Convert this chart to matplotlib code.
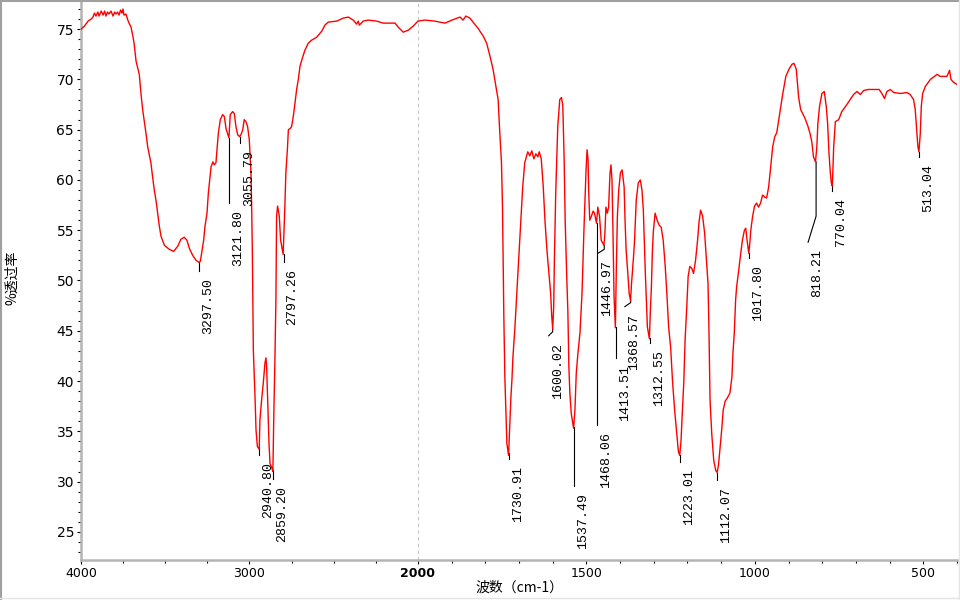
import numpy as np
import matplotlib
matplotlib.use("Agg")
import matplotlib.pyplot as plt
from matplotlib.ticker import FixedLocator, MultipleLocator
from matplotlib.lines import Line2D

# IR spectrum: wavenumber (cm-1) and % transmittance
wavenumber = [
    4000, 3980, 3958, 3940, 3929, 3920, 3911, 3900, 3893, 3880, 3869, 3860, 3852, 3843,
    3834, 3822, 3810, 3800, 3792, 3783, 3774, 3765, 3757, 3751, 3745, 3733, 3722, 3715,
    3703, 3691, 3685, 3673, 3654, 3644, 3634, 3614, 3604, 3585, 3575, 3565, 3555, 3545,
    3535, 3525, 3505, 3476, 3450, 3426, 3407, 3387, 3371, 3357, 3337, 3317, 3300, 3292,
    3284, 3272, 3264, 3252, 3244, 3236, 3228, 3217, 3209, 3199, 3193, 3185, 3173, 3159,
    3149, 3139, 3130, 3122, 3114, 3100, 3090, 3080, 3070, 3058, 3048, 3040, 3031, 3021,
    3011, 3001, 2991, 2987, 2983, 2977, 2967, 2961, 2953, 2942, 2938, 2928, 2918, 2908,
    2902, 2898, 2892, 2884, 2878, 2868, 2861, 2855, 2849, 2843, 2839, 2833, 2823, 2815,
    2800, 2790, 2784, 2775, 2769, 2760, 2750, 2740, 2730, 2720, 2710, 2700, 2690, 2671,
    2651, 2631, 2601, 2571, 2552, 2532, 2482, 2443, 2413, 2384, 2364, 2354, 2348, 2325,
    2295, 2245, 2206, 2136, 2117, 2087, 2057, 2028, 2000,
    1979, 1950, 1920, 1899, 1875, 1866, 1858, 1846, 1834, 1822, 1816, 1806, 1796, 1786,
    1777, 1772, 1767, 1762, 1757, 1752, 1749, 1747, 1745, 1742, 1739, 1736, 1731, 1728,
    1724, 1721, 1718, 1712, 1706, 1700, 1694, 1689, 1683, 1674, 1668, 1662, 1656, 1650,
    1644, 1640, 1634, 1628, 1623, 1617, 1611, 1606, 1603, 1600, 1597, 1595, 1591, 1585,
    1579, 1574, 1570, 1566, 1563, 1558, 1555, 1552, 1549, 1545, 1538, 1534, 1530, 1525,
    1519, 1513, 1507, 1501, 1498, 1495, 1493, 1490, 1485, 1480, 1476, 1470, 1466, 1461,
    1456, 1448, 1445, 1442, 1438, 1434, 1430, 1427, 1424, 1421, 1418, 1414, 1411, 1408,
    1404, 1399, 1394, 1388, 1385, 1382, 1377, 1373, 1369, 1366, 1360, 1357, 1352, 1346,
    1340, 1335, 1331, 1328, 1325, 1319, 1313, 1310, 1307, 1304, 1301, 1296, 1290, 1284,
    1278, 1272, 1266, 1260, 1256, 1250, 1244, 1238, 1232, 1227, 1223, 1219, 1216, 1211,
    1207, 1202, 1198, 1193, 1187, 1182, 1176, 1170, 1166, 1161, 1155, 1149, 1143, 1139,
    1136, 1133, 1128, 1122, 1116, 1112, 1108, 1103, 1098, 1094, 1088, 1082, 1074, 1068,
    1065, 1061, 1057, 1054, 1049, 1043, 1037, 1031, 1027, 1023, 1018, 1015, 1012, 1007,
    1001, 995, 989, 983, 977, 971, 965, 959, 953, 947, 941, 935, 929, 923, 917, 908, 899,
    890, 884, 877, 870, 864, 852, 843, 836, 831, 826, 820, 816, 813, 808, 801, 794, 788,
    784, 780, 776, 773, 770, 766, 761, 751, 742, 727, 707, 697, 687, 677, 663, 648, 638,
    631, 623, 615, 608, 598, 588, 568, 549, 539, 529, 524, 519, 516, 513, 509, 506, 502,
    494, 479, 459, 450, 430, 422, 418, 410, 400,
]
transmittance = [
    75.0, 75.3, 75.8, 76.0, 76.2, 76.6, 76.3, 76.7, 76.3, 76.8, 76.4, 76.8, 76.3, 76.7,
    76.5, 76.8, 76.3, 76.7, 76.5, 76.7, 76.4, 76.9, 76.6, 77.0, 76.4, 76.5, 75.9, 75.6,
    75.2, 74.2, 73.6, 71.8, 70.5, 68.6, 67.0, 64.6, 63.3, 61.7, 60.3, 59.0, 58.0, 56.7,
    55.4, 54.4, 53.5, 53.1, 52.9, 53.4, 54.1, 54.3, 54.0, 53.2, 52.5, 52.0, 51.8, 51.9,
    52.7, 54.0, 55.4, 56.7, 58.7, 60.0, 61.3, 61.8, 61.5, 61.7, 63.0, 64.6, 66.0, 66.5,
    66.3, 65.1, 64.6, 64.2, 66.5, 66.8, 66.6, 65.3, 64.5, 64.3, 64.6, 65.0, 66.0, 65.8,
    65.3, 64.0, 60.7, 57.3, 53.0, 43.1, 38.4, 35.1, 33.5, 33.2, 36.1, 38.1, 39.8, 41.8,
    42.3, 41.4, 38.1, 33.8, 31.8, 31.4, 31.0, 37.1, 42.0, 48.1, 56.4, 57.4, 56.4, 54.0,
    52.6, 57.3, 60.7, 63.0, 65.0, 65.1, 65.3, 66.3, 67.6, 69.0, 70.0, 71.3, 71.9, 72.9,
    73.6, 73.9, 74.2, 74.8, 75.4, 75.7, 75.8, 76.1, 76.2, 75.9, 75.5, 75.8, 75.4, 75.8,
    75.9, 75.8, 75.6, 75.6, 75.2, 74.7, 74.9, 75.3, 75.8,
    75.9, 75.8, 75.6, 75.9, 76.2, 75.9, 76.3, 76.1, 75.6, 75.1, 74.8, 74.3, 73.6, 72.3,
    71.0, 70.0, 69.0, 68.0, 64.7, 61.7, 57.3, 52.0, 46.4, 40.4, 37.1, 33.8, 32.6, 35.1,
    38.4, 40.1, 42.4, 45.4, 49.1, 52.7, 56.3, 59.3, 61.7, 62.8, 62.4, 62.9, 62.1, 62.6,
    62.3, 62.8, 62.1, 59.3, 56.0, 53.0, 50.7, 48.7, 46.5, 45.2, 47.4, 52.0, 58.7, 65.3,
    68.0, 68.2, 67.4, 62.0, 56.0, 50.0, 47.0, 41.4, 38.8, 36.8, 35.3, 37.1, 40.8, 42.8,
    44.8, 48.7, 55.3, 61.0, 63.0, 62.0, 58.7, 56.0, 56.4, 56.9, 56.7, 55.7, 57.3, 56.4,
    54.0, 53.5, 54.7, 57.3, 56.7, 57.3, 60.6, 61.5, 60.0, 54.7, 48.5, 45.3, 51.4, 56.4,
    59.0, 60.7, 61.0, 59.3, 55.7, 53.0, 50.7, 48.7, 48.0, 49.7, 52.4, 54.0, 58.0, 59.7,
    60.0, 59.0, 57.0, 53.7, 50.7, 45.4, 44.2, 47.1, 49.4, 53.0, 55.0, 56.7, 56.0, 55.5,
    55.3, 54.0, 51.4, 48.0, 45.4, 43.4, 39.8, 37.1, 34.8, 33.0, 32.6, 34.1, 36.4, 39.8,
    44.1, 47.4, 50.4, 51.4, 51.2, 50.7, 52.0, 54.0, 55.7, 57.0, 56.4, 54.7, 51.7, 49.7,
    44.7, 38.1, 34.8, 32.1, 31.1, 30.9, 31.6, 33.5, 35.3, 37.1, 38.0, 38.3, 38.8, 40.4,
    42.8, 44.8, 48.1, 49.4, 50.7, 52.4, 54.0, 55.0, 55.2, 54.0, 52.7, 53.7, 55.0, 56.3,
    57.4, 57.7, 57.3, 57.7, 58.5, 58.3, 58.2, 59.3, 61.3, 63.3, 64.3, 64.7, 66.0, 67.3,
    68.6, 70.3, 71.0, 71.5, 71.6, 71.0, 68.2, 67.0, 66.2, 65.4, 64.6, 63.8, 62.3, 61.8,
    63.3, 65.6, 67.3, 68.6, 68.8, 67.3, 65.6, 62.7, 60.7, 59.7, 59.4, 63.3, 65.8, 66.0,
    66.8, 67.5, 68.5, 68.8, 68.5, 68.9, 69.0, 69.0, 69.0, 69.0, 68.6, 68.1, 68.8, 69.0,
    68.7, 68.6, 68.7, 68.5, 68.0, 67.0, 64.6, 63.3, 62.8, 64.6, 67.3, 68.6, 69.3, 70.0,
    70.5, 70.3, 70.3, 70.9, 70.0, 69.7, 69.5,
]

# peak picks
peak_labels = ["3297.50", "3121.80", "3055.79", "2940.80", "2859.20", "2797.26",
               "1730.91", "1600.02", "1537.49", "1468.06", "1446.97", "1413.51",
               "1368.57", "1312.55", "1223.01", "1112.07", "1017.80", "818.21",
               "770.04", "513.04"]
leader_top = [51.8, 64.2, 64.3, 33.4, 31.2, 52.6, 32.8, 45.2, 35.4, 55.7, 53.5, 45.4,
              48.0, 44.3, 32.6, 30.9, 52.7, 61.8, 59.5, 62.8]
leader_bottom = [50.9, 57.7, 63.7, 32.6, 30.3, 51.8, 32.2, 44.9, 29.6, 35.6, 53.1, 42.3,
                 47.8, 43.8, 31.9, 30.2, 52.2, 56.4, 58.9, 62.3]
leader_kinks = {"1600.02": (1612, 44.5), "1446.97": (1466, 52.7),
                "1368.57": (1386, 47.4), "818.21": (842, 53.8)}

x_major = [4000, 3000, 2000, 1500, 1000, 500]
x_minor = [3750, 3500, 3250, 2750, 2500, 2250] + list(range(1900, 399, -100))


# the spectrometer software expands the axis 2x below 2000 cm-1
def forward(x):
    x = np.asarray(x, dtype=float)
    return np.where(x > 2000, 2000 + (x - 2000) / 2.0, x)


def inverse(u):
    u = np.asarray(u, dtype=float)
    return np.where(u > 2000, 2000 + (u - 2000) * 2.0, u)


fig = plt.figure(figsize=(9.6, 6), dpi=100)
ax = fig.add_axes([81 / 960, 40 / 600, 876 / 960, 558 / 600])
ax.set_xscale("function", functions=(forward, inverse))

ax.axvline(2000, color="#c4c4c4", lw=0.8, ls=(0, (3, 3)), zorder=1)
ax.plot(wavenumber, transmittance, color="red", lw=1.0, zorder=3)

for i, lab in enumerate(peak_labels):
    wn = float(lab)
    xs = [wn, wn]
    ys = [leader_top[i], leader_bottom[i]]
    if lab in leader_kinks:
        xs.append(leader_kinks[lab][0])
        ys.append(leader_kinks[lab][1])
    ax.plot(xs, ys, color="black", lw=0.8, zorder=2)
    ax.annotate(lab, xy=(xs[-1], ys[-1]), xytext=(9, -7), textcoords="offset pixels",
                rotation=90, ha="center", va="top", fontsize=9.5,
                fontfamily="Liberation Mono", color="black")

ax.set_xlim(4000, 400)
ax.set_ylim(22.2, 77.7)

ax.set_xticks(x_major, [str(v) for v in x_major])
ax.xaxis.set_minor_locator(FixedLocator(x_minor))
ax.get_xticklabels()[2].set_fontweight("bold")
ax.yaxis.set_major_locator(MultipleLocator(5))
ax.yaxis.set_minor_locator(MultipleLocator(1))

ax.tick_params(which="both", direction="out", color="black", width=0.8, pad=2)
ax.tick_params(axis="x", labelsize=9)
ax.tick_params(axis="y", labelsize=10)
ax.tick_params(which="major", length=3)
ax.tick_params(which="minor", length=2)

for side in ["top", "right"]:
    ax.spines[side].set_visible(False)
for side in ["left", "bottom"]:
    ax.spines[side].set_color("#b4b4b4")
    ax.spines[side].set_linewidth(1.8)

fig.text(519 / 960, 1 - 588 / 600, "波数（cm-1）", ha="center", va="center",
         fontsize=10, family=["Noto Sans CJK SC", "DejaVu Sans"])
fig.text(12 / 960, 1 - 278 / 600, "%透过率", ha="center", va="center", rotation=90,
         fontsize=10, family=["Noto Sans CJK SC", "DejaVu Sans"])

# window-like frame round the figure
fig.add_artist(Line2D([1 / 960, 1 / 960], [0, 1], transform=fig.transFigure,
                      color="#a0a0a0", lw=1.5))
fig.add_artist(Line2D([0, 1], [1 - 1 / 600, 1 - 1 / 600], transform=fig.transFigure,
                      color="#a0a0a0", lw=1.5))
fig.add_artist(Line2D([958.5 / 960, 958.5 / 960], [0, 1], transform=fig.transFigure,
                      color="#e4e4e4", lw=1.0))
fig.add_artist(Line2D([0, 1], [1 - 597.5 / 600, 1 - 597.5 / 600],
                      transform=fig.transFigure, color="#e4e4e4", lw=1.0))

fig.savefig("out.png", dpi=100)
